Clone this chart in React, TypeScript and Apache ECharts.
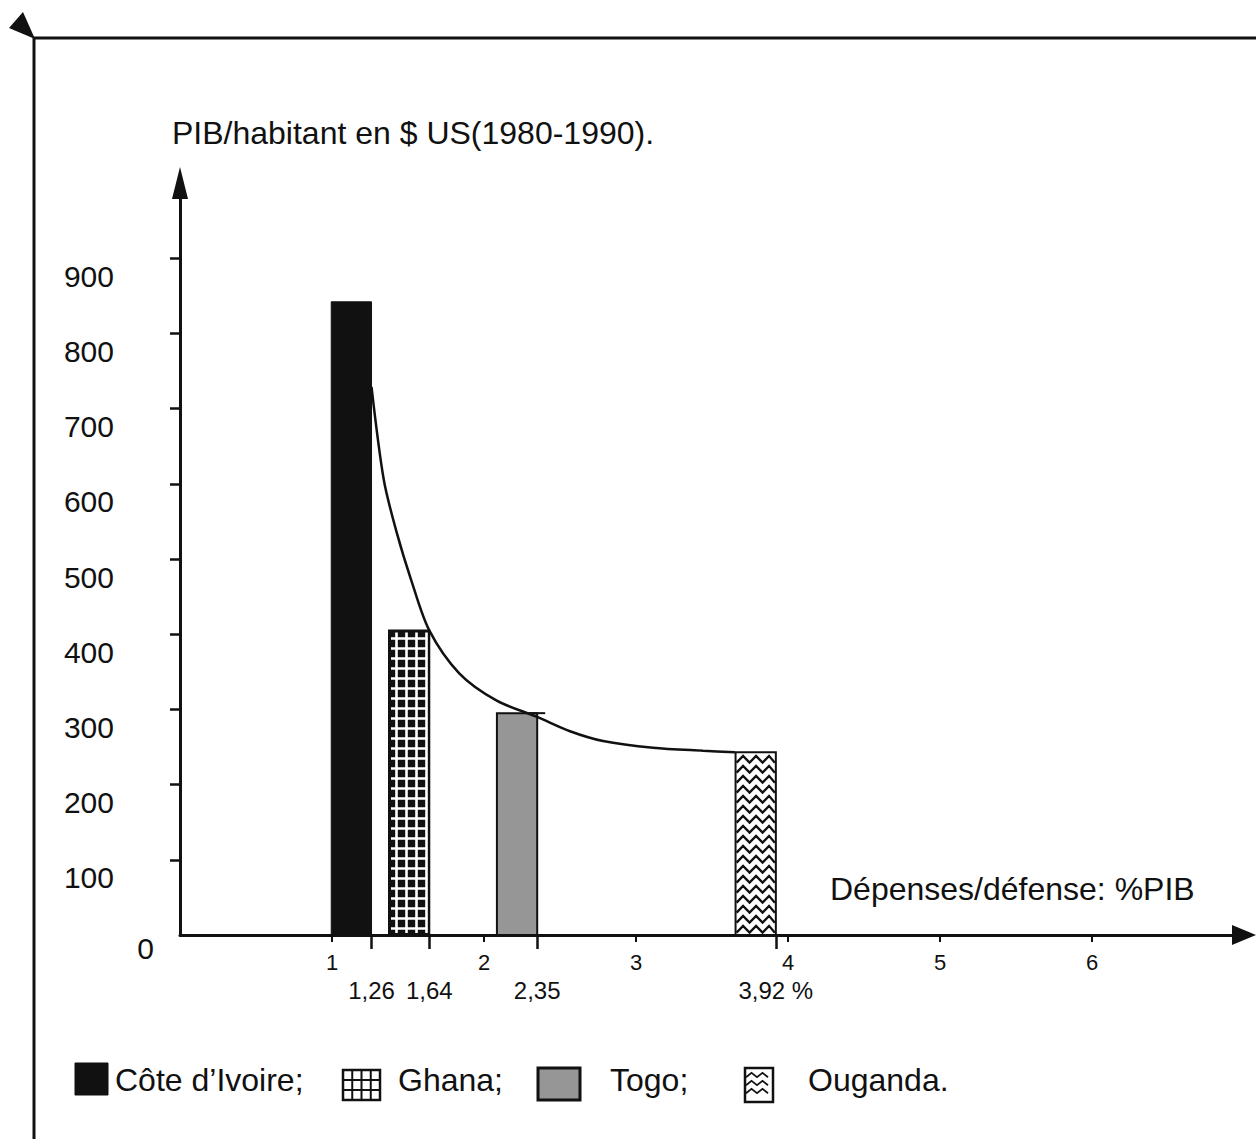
import React, { useEffect, useRef } from "react";
import * as echarts from "echarts";

// ---------- data ----------
const countries = ["Côte d’Ivoire", "Ghana", "Togo", "Ouganda"];
const defenseShare = [1.26, 1.64, 2.35, 3.92]; // % of PIB (right edge of each bar)
const gdpPerCapita = [842, 405, 295, 243]; // $ US per inhabitant
const patternKinds = ["solid", "grid", "gray", "zigzag"];
const legendLabels = ["Côte d’Ivoire;", "Ghana;", "Togo;", "Ouganda."];

const curveX = [1.26, 1.341, 1.426, 1.521, 1.64, 1.837, 2.081, 2.35, 2.566, 2.783, 3.112, 3.441, 3.651];
const curveY = [729, 605, 535, 472, 405, 348, 312, 290, 271, 258, 249, 245, 243];

const yTicks = [100, 200, 300, 400, 500, 600, 700, 800, 900];
const yZeroLabel = [0];
const xTicks = [1, 2, 3, 4, 5, 6];
const decimalTicks = [1.26, 1.64, 2.35, 3.92];
const decimalTickLabels = ["1,26", "1,64", "2,35", "3,92 %"];

const yTitle = "PIB/habitant en $ US(1980-1990).";
const xTitle = "Dépenses/défense: %PIB";

// ---------- styling ----------
const FONT = "'Liberation Sans', Arial, Helvetica, sans-serif";
const INK = "#111";
const BAR_WIDTH = 0.265; // in x units

function patternChildren(kind: string, x: number, y: number, w: number, h: number, legend = false): any[] {
  const els: any[] = [];
  const border = { fill: "none", stroke: INK, lineWidth: legend ? 2.5 : 2 };
  if (kind === "solid") {
    els.push({ type: "rect", shape: { x, y, width: w, height: h }, style: { fill: INK, stroke: INK, lineWidth: 1 } });
  } else if (kind === "grid") {
    if (legend) {
      els.push({ type: "rect", shape: { x, y, width: w, height: h }, style: { fill: "#fff" } });
      const nx = 4, ny = 3;
      for (let i = 1; i < nx; i++) {
        const gx = x + (w * i) / nx;
        els.push({ type: "line", shape: { x1: gx, y1: y, x2: gx, y2: y + h }, style: { stroke: INK, lineWidth: 2 } });
      }
      for (let j = 1; j < ny; j++) {
        const gy = y + (h * j) / ny;
        els.push({ type: "line", shape: { x1: x, y1: gy, x2: x + w, y2: gy }, style: { stroke: INK, lineWidth: 2 } });
      }
    } else {
      els.push({ type: "rect", shape: { x, y, width: w, height: h }, style: { fill: INK } });
      for (let gx = x + 7.5; gx < x + w - 2; gx += 10) {
        els.push({ type: "line", shape: { x1: gx, y1: y + 2, x2: gx, y2: y + h - 2 }, style: { stroke: "#fff", lineWidth: 2.6 } });
      }
      for (let gy = y + 8; gy < y + h - 2; gy += 10) {
        els.push({ type: "line", shape: { x1: x + 2, y1: gy, x2: x + w - 2, y2: gy }, style: { stroke: "#fff", lineWidth: 2.6 } });
      }
    }
    els.push({ type: "rect", shape: { x, y, width: w, height: h }, style: border });
  } else if (kind === "gray") {
    els.push({ type: "rect", shape: { x, y, width: w, height: h }, style: { fill: "#969696", stroke: INK, lineWidth: legend ? 3 : 2 } });
    if (!legend) {
      // small hand-drawn mark where the curve meets the bar
      els.push({ type: "line", shape: { x1: x + w - 8, y1: y, x2: x + w + 8, y2: y }, style: { stroke: INK, lineWidth: 2 } });
    }
  } else {
    els.push({ type: "rect", shape: { x, y, width: w, height: h }, style: { fill: "#fff" } });
    const pitch = legend ? 8 : 10;
    const step = legend ? 5.5 : 6.5;
    const amp = legend ? 2.2 : 3.4;
    for (let gy = y + 7; gy < y + h - 4; gy += pitch) {
      const pts: number[][] = [];
      let i = 0;
      for (let px = x + 1; px < x + w; px += step, i++) {
        pts.push([Math.min(px, x + w - 1), gy + (i % 2 === 0 ? amp : -amp)]);
      }
      els.push({ type: "polyline", shape: { points: pts }, style: { fill: "none", stroke: INK, lineWidth: legend ? 1.8 : 2.3 } });
    }
    els.push({ type: "rect", shape: { x, y, width: w, height: h }, style: border });
  }
  return els;
}

const legendIcons = [
  { x: 75, y: 1063, w: 33, h: 32, tx: 115 },
  { x: 343, y: 1070, w: 37, h: 30, tx: 398 },
  { x: 538, y: 1068, w: 42, h: 32, tx: 610 },
  { x: 745, y: 1068, w: 28, h: 34, tx: 808 },
];

export default function App() {
  const ref = useRef<HTMLDivElement>(null);

  useEffect(() => {
    if (!ref.current) return;
    const chart = echarts.init(ref.current, null, { renderer: "svg" });

    const barSeries = countries.map((name, i) => ({
      type: "custom",
      name,
      xAxisIndex: 0,
      yAxisIndex: 0,
      encode: { x: 0, y: 1 },
      data: [[defenseShare[i], gdpPerCapita[i]]],
      z: 2,
      renderItem: (_params: any, api: any) => {
        const xv = api.value(0);
        const yv = api.value(1);
        const tl = api.coord([xv - BAR_WIDTH, yv]);
        const br = api.coord([xv, 0]);
        return {
          type: "group",
          children: patternChildren(patternKinds[i], tl[0], tl[1], br[0] - tl[0], br[1] - tl[1]),
        };
      },
    }));

    const legendGraphics: any[] = [];
    legendIcons.forEach((p, i) => {
      legendGraphics.push({ type: "group", children: patternChildren(patternKinds[i], p.x, p.y, p.w, p.h, true) });
      legendGraphics.push({
        type: "text",
        x: p.tx,
        y: 1080,
        style: { text: legendLabels[i], font: `32px ${FONT}`, fill: INK, verticalAlign: "middle", align: "left" },
      });
    });

    const option: any = {
      animation: false,
      backgroundColor: "#fff",
      grid: { left: 180, right: 12, top: 183, bottom: 204, containLabel: false, outerBoundsMode: "none" },
      xAxis: [
        {
          type: "value",
          min: 0,
          max: 7,
          position: "bottom",
          axisLine: {
            show: true,
            onZero: false,
            lineStyle: { color: INK, width: 3 },
            symbol: ["none", "triangle"],
            symbolSize: [20, 24],
          },
          axisTick: { show: true, customValues: xTicks, length: 7, lineStyle: { color: INK, width: 2 } },
          axisLabel: { customValues: xTicks, margin: 16, fontSize: 22, color: INK, fontFamily: FONT },
          splitLine: { show: false },
        },
        {
          type: "value",
          min: 0,
          max: 7,
          position: "bottom",
          offset: 0,
          axisLine: { show: false, onZero: false },
          axisTick: { show: true, customValues: decimalTicks, length: 14, lineStyle: { color: INK, width: 2.5 } },
          axisLabel: {
            customValues: decimalTicks,
            margin: 43,
            fontSize: 24,
            color: INK,
            fontFamily: FONT,
            formatter: (v: number) => {
              const k = decimalTicks.findIndex((d) => Math.abs(d - v) < 1e-6);
              return k >= 0 ? decimalTickLabels[k] : "";
            },
          },
          splitLine: { show: false },
        },
      ],
      yAxis: [
        {
          type: "value",
          min: 0,
          max: 1000,
          position: "left",
          axisLine: {
            show: true,
            onZero: false,
            lineStyle: { color: INK, width: 3 },
            symbol: ["none", "triangle"],
            symbolSize: [16, 32],
          },
          axisTick: { show: true, customValues: yTicks, length: 10, lineStyle: { color: INK, width: 2.5 } },
          axisLabel: {
            customValues: yTicks,
            margin: 66,
            fontSize: 30,
            color: INK,
            fontFamily: FONT,
            verticalAlign: "top",
            lineHeight: 36,
          },
          splitLine: { show: false },
        },
        {
          type: "value",
          min: 0,
          max: 1000,
          position: "left",
          axisLine: { show: false, onZero: false },
          axisTick: { show: false },
          axisLabel: {
            customValues: yZeroLabel,
            margin: 26,
            fontSize: 30,
            color: INK,
            fontFamily: FONT,
            verticalAlign: "top",
            lineHeight: 26,
          },
          splitLine: { show: false },
        },
      ],
      series: [
        ...barSeries,
        {
          type: "line",
          name: "tendance",
          xAxisIndex: 0,
          yAxisIndex: 0,
          data: curveX.map((x, i) => [x, curveY[i]]),
          smooth: 0.3,
          symbol: "none",
          z: 5,
          lineStyle: { color: INK, width: 2.5 },
        },
      ],
      graphic: [
        { type: "polyline", shape: { points: [[34, 1139], [34, 38], [1256, 38]] }, style: { fill: "none", stroke: INK, lineWidth: 3 } },
        { type: "polygon", shape: { points: [[9, 28], [23, 12], [35, 39]] }, style: { fill: INK } },
        {
          type: "text",
          x: 172,
          y: 133,
          style: { text: yTitle, font: `32px ${FONT}`, fill: INK, verticalAlign: "middle", align: "left" },
        },
        {
          type: "text",
          x: 830,
          y: 889,
          style: { text: xTitle, font: `32px ${FONT}`, fill: INK, verticalAlign: "middle", align: "left" },
        },
        ...legendGraphics,
      ],
    };

    chart.setOption(option);
    return () => chart.dispose();
  }, []);

  return (
    <div
      ref={ref}
      style={{ position: "absolute", left: 0, top: 0, width: 1256, height: 1139, background: "#fff" }}
    />
  );
}
